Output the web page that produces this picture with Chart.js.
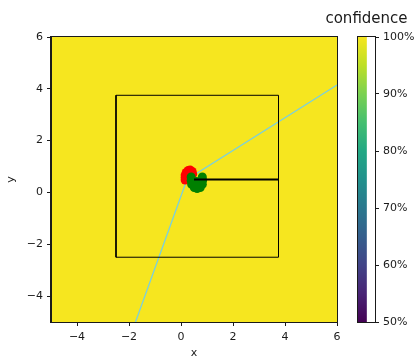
<!DOCTYPE html>
<html>
<head>
<meta charset="utf-8">
<script src="https://cdn.jsdelivr.net/npm/chart.js@4/dist/chart.umd.min.js"></script>
<style>
  html, body { margin: 0; padding: 0; background: #ffffff; }
  #wrap { position: relative; width: 420px; height: 360px; }
  #main { position: absolute; left: 0; top: 0; }
  #cbar { position: absolute; left: 313px; top: 0; }
</style>
</head>
<body>
<div id="wrap">
  <canvas id="main" width="420" height="360"></canvas>
  <canvas id="cbar" width="107" height="360"></canvas>
</div>
<script>
// Axis ticks
const xTicks = [-4, -2, 0, 2, 4, 6];
const yTicks = [-4, -2, 0, 2, 4, 6];
const cbTicks = [50, 60, 70, 80, 90, 100];

// Planned path (two straight legs meeting near the start pose)
const pathX = [-1.75, 0.23, 6.0];
const pathY = [-5.0, 0.50, 4.15];

// Goal region outline
const boxX = [-2.5, 3.75, 3.75, -2.5, -2.5];
const boxY = [-2.5, -2.5, 3.75, 3.75, -2.5];

// Heading segment from the current pose
const headX = [0.5, 3.75];
const headY = [0.5, 0.5];

// Past positions (red) and predicted positions (green)
const redX = [0.16, 0.16, 0.16, 0.20, 0.28, 0.35, 0.43, 0.45];
const redY = [0.48, 0.58, 0.67, 0.77, 0.85, 0.87, 0.81, 0.71];
const greenX = [0.39, 0.39, 0.41, 0.51, 0.62, 0.74, 0.82, 0.83, 0.82, 0.60, 0.60];
const greenY = [0.60, 0.46, 0.31, 0.19, 0.15, 0.19, 0.31, 0.46, 0.60, 0.35, 0.42];

// Confidence over the whole field (fraction)
const fieldConfidence = 1.0;

// Colour scale range and viridis stops
const cbRange = [50, 100];
const viridisStops = ['#440154', '#482475', '#414487', '#355f8d', '#2a788e',
                      '#21918c', '#22a884', '#44bf70', '#7ad151', '#bddf26', '#f6e61f'];

const FONT = 'DejaVu Sans';
const INK = '#1a1a1a';

const pts = (xs, ys) => xs.map((x, i) => ({ x: x, y: ys[i] }));
const fmt = v => (v < 0 ? '\u2212' + Math.abs(v) : String(v));

function viridisAt(t) {
  const n = viridisStops.length - 1;
  const i = Math.min(n, Math.round(t * n));
  return viridisStops[i];
}

function frameArea(chart) {
  const a = chart.chartArea, c = chart.ctx;
  c.save();
  c.strokeStyle = INK;
  c.lineWidth = 1;
  c.strokeRect(Math.round(a.left) - 0.5, Math.round(a.top) - 0.5,
               Math.round(a.right - a.left) + 1, Math.round(a.bottom - a.top) + 1);
  c.restore();
}

const fieldPlugin = {
  id: 'field',
  beforeDraw(chart) {
    const a = chart.chartArea, c = chart.ctx;
    c.save();
    c.fillStyle = viridisAt(fieldConfidence);
    c.fillRect(a.left, a.top, a.right - a.left, a.bottom - a.top);
    c.restore();
  },
  afterDraw: frameArea
};

function axis(ticksArr, extra) {
  return Object.assign({
    type: 'linear',
    min: -5,
    max: 6,
    afterBuildTicks: s => { s.ticks = ticksArr.map(v => ({ value: v })); },
    ticks: {
      callback: v => fmt(v),
      color: INK,
      padding: 4,
      font: { family: FONT, size: 11 },
      maxRotation: 0,
      autoSkip: false
    },
    grid: { drawOnChartArea: false, drawTicks: true, tickLength: 4, tickColor: INK, color: INK },
    border: { display: true, color: INK, width: 1 }
  }, extra);
}

new Chart(document.getElementById('main'), {
  type: 'scatter',
  data: {
    datasets: [
      { label: 'heading', data: pts(headX, headY), showLine: true, borderColor: '#000000',
        borderWidth: 2, pointRadius: 0 },
      { label: 'predicted', data: pts(greenX, greenY), backgroundColor: '#008000',
        borderWidth: 0, pointRadius: 4.5 },
      { label: 'past', data: pts(redX, redY), backgroundColor: '#ff0000',
        borderWidth: 0, pointRadius: 4.5 },
      { label: 'goal', data: pts(boxX, boxY), showLine: true, borderColor: '#000000',
        borderWidth: 1, pointRadius: 0 },
      { label: 'path', data: pts(pathX, pathY), showLine: true, borderColor: '#7ccfdc',
        borderWidth: 1.3, pointRadius: 0 }
    ]
  },
  options: {
    responsive: false,
    animation: false,
    devicePixelRatio: 1,
    layout: { padding: { top: 37, right: 83, left: 0, bottom: 0 } },
    plugins: { legend: { display: false }, tooltip: { enabled: false } },
    scales: {
      x: axis(xTicks, {
        afterFit: s => { s.height = 38; },
        ticks: {
          callback: v => fmt(v), color: INK, padding: 5,
          font: { family: FONT, size: 11 }, maxRotation: 0, autoSkip: false
        },
        title: { display: true, text: 'x', color: INK, font: { family: FONT, size: 11 },
                 padding: { top: 0, bottom: 0 } }
      }),
      y: axis(yTicks, {
        afterFit: s => { s.width = 51; },
        title: { display: true, text: 'y', color: INK, font: { family: FONT, size: 11 },
                 padding: { top: 5, bottom: 0 } }
      })
    }
  },
  plugins: [fieldPlugin]
});

// Colour bar
new Chart(document.getElementById('cbar'), {
  type: 'bar',
  data: {
    labels: [''],
    datasets: [{
      data: [cbRange],
      yAxisID: 'y',
      borderWidth: 0,
      barPercentage: 1,
      categoryPercentage: 1,
      backgroundColor: ctx => {
        const ch = ctx.chart;
        const ys = ch.scales.y;
        if (!ys || !ch.chartArea) return viridisStops[5];
        const g = ch.ctx.createLinearGradient(0, ys.getPixelForValue(cbRange[0]), 0,
                                              ys.getPixelForValue(cbRange[1]));
        viridisStops.forEach((col, i) => g.addColorStop(i / (viridisStops.length - 1), col));
        return g;
      }
    }]
  },
  options: {
    responsive: false,
    animation: false,
    devicePixelRatio: 1,
    layout: { padding: { top: 0, right: 0, left: 0, bottom: 38 } },
    plugins: {
      legend: { display: false },
      tooltip: { enabled: false },
      title: {
        display: true,
        text: 'confidence',
        color: INK,
        font: { family: FONT, size: 15, weight: 'normal' },
        padding: { top: 10, bottom: 9 }
      }
    },
    scales: {
      x: { display: false, offset: false },
      // spacer on the left so the bar sits right of the plot
      gap: {
        type: 'linear',
        position: 'left',
        display: true,
        afterFit: s => { s.width = 45; },
        ticks: { display: false },
        grid: { display: false, drawTicks: false },
        border: { display: false }
      },
      y: {
        position: 'right',
        min: cbRange[0],
        max: cbRange[1],
        afterBuildTicks: s => { s.ticks = cbTicks.map(v => ({ value: v })); },
        afterFit: s => { s.width = 45; },
        ticks: {
          callback: v => v + '%',
          color: INK,
          padding: 4,
          font: { family: FONT, size: 11 }
        },
        grid: { drawOnChartArea: false, drawTicks: true, tickLength: 4, tickColor: INK },
        border: { display: true, color: INK, width: 1 }
      }
    }
  },
  plugins: [{ id: 'cbFrame', afterDraw: frameArea }]
});
</script>
</body>
</html>
